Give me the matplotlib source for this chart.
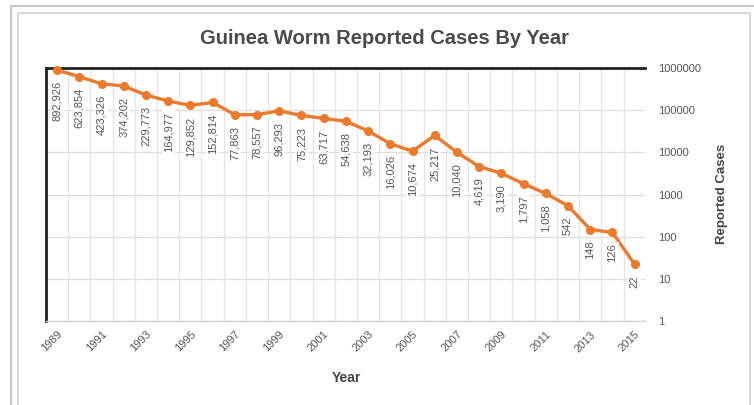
import matplotlib
matplotlib.use("Agg")
import matplotlib.pyplot as plt
from matplotlib.patches import Rectangle

years = list(range(1989, 2016))
cases = [892926, 623854, 423326, 374202, 229773, 164977, 129852, 152814,
         77863, 78557, 96293, 75223, 63717, 54638, 32193, 16026, 10674,
         25217, 10040, 4619, 3190, 1797, 1058, 542, 148, 126, 22]
tick_years = list(range(1989, 2016, 2))
y_ticks = [1, 10, 100, 1000, 10000, 100000, 1000000]

plt.rcParams['font.family'] = ['Liberation Sans', 'DejaVu Sans']

W, H = 754, 405
fig = plt.figure(figsize=(7.54, 4.05), dpi=100)
fig.patch.set_facecolor('white')
# outer frames (pixel-based positions)
fig.patches.append(Rectangle((11 / W, -0.05), 1.2, 1 - 6 / H + 0.05, transform=fig.transFigure,
                             fill=False, edgecolor='#c8c8c8', lw=1.5))
fig.patches.append(Rectangle((18 / W, -0.05), (750 - 18) / W, 1 - 13 / H + 0.05,
                             transform=fig.transFigure,
                             fill=False, edgecolor='#d0d0d0', lw=1.2))

ax = fig.add_axes([0.061, 0.2074, 0.794, 0.6246])
ax.set_yscale('log')
ax.set_ylim(1, 1e6)
ax.set_xlim(years[0] - 0.5, years[-1] + 0.45)

# grid
for yv in y_ticks:
    ax.axhline(yv, color='#dcdcdc', lw=0.9, zorder=0)
for i in range(len(years) + 1):
    ax.axvline(years[0] - 0.5 + i, color='#e4e4e4', lw=0.9, zorder=0)

ax.plot(years, cases, color='#ec7a2c', lw=2.4, marker='o', ms=5.5,
        markeredgecolor='#ec7a2c', zorder=3, clip_on=False)

for x, v in zip(years, cases):
    ax.annotate(f"{v:,}", (x, v), xytext=(0, -8), textcoords='offset points',
                rotation=90, ha='center', va='top', fontsize=8, color='#555555',
                bbox=dict(boxstyle='square,pad=0.15', fc='white', ec='none'),
                zorder=4)

ax.yaxis.tick_right()
ax.set_yticks(y_ticks)
ax.set_yticklabels([str(v) for v in y_ticks])
ax.minorticks_off()
ax.tick_params(axis='y', length=0, pad=10, labelsize=8, labelcolor='#555555')
ax.set_xticks(tick_years)
ax.set_xticklabels([str(y) for y in tick_years], rotation=45, ha='right',
                   rotation_mode='anchor')
ax.tick_params(axis='x', length=0, pad=6, labelsize=8, labelcolor='#555555')

ax.spines['right'].set_visible(False)
ax.spines['top'].set_color('#222222')
ax.spines['top'].set_linewidth(2)
ax.spines['left'].set_color('#222222')
ax.spines['left'].set_linewidth(2)
ax.spines['bottom'].set_color('#d0d0d0')
ax.spines['bottom'].set_linewidth(1)

fig.text(385 / W, 1 - 38 / H, 'Guinea Worm Reported Cases By Year', ha='center', va='center',
         fontsize=14.5, fontweight='bold', color='#4a4a4a')
fig.text(0.46, 0.067, 'Year', ha='center', va='center', fontsize=10,
         fontweight='bold', color='#444444')
fig.text(0.957, 0.52, 'Reported Cases', ha='center', va='center', rotation=90,
         fontsize=9.5, fontweight='bold', color='#444444')

fig.savefig('out.png', dpi=100, facecolor='white')
